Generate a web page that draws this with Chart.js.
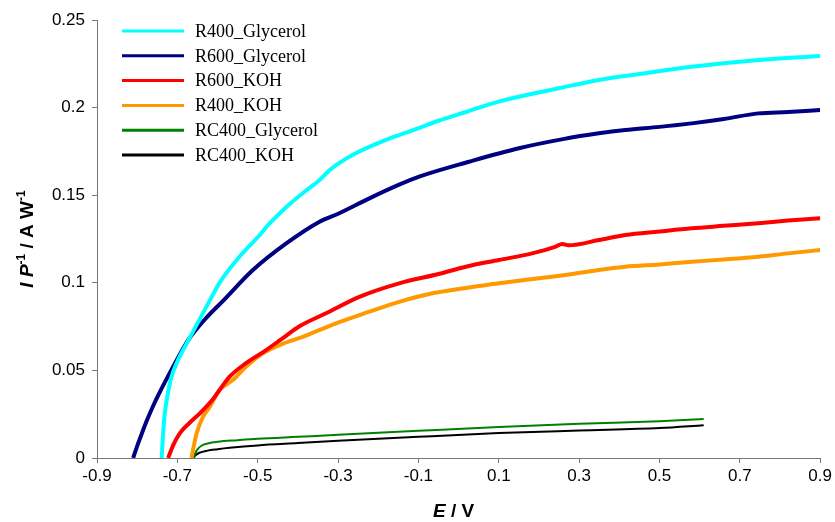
<!DOCTYPE html>
<html>
<head>
<meta charset="utf-8">
<script src="https://cdn.jsdelivr.net/npm/chart.js@4.4.1/dist/chart.umd.min.js"></script>
<style>
  html, body { margin:0; padding:0; background:#fff; }
  #wrap { width:835px; height:522px; position:relative; }
</style>
</head>
<body>
<div id="wrap"><canvas id="chart"></canvas></div>
<script>
/* ── Data (E / V , I P^-1 / A W^-1) ── */
const seriesNames = ['R400_Glycerol', 'R600_Glycerol', 'R600_KOH', 'R400_KOH', 'RC400_Glycerol', 'RC400_KOH'];
const seriesColors = ['#00FFFF', '#000080', '#FF0000', '#FF9900', '#008000', '#000000'];
const seriesWidths = [4, 4, 4, 4, 2, 2];

const eR400Gly = [-0.739,-0.736,-0.732,-0.725,-0.715,-0.7,-0.673,-0.645,-0.619,-0.595,-0.545,-0.5,-0.47,-0.43,-0.389,-0.346,-0.32,-0.305,-0.264,-0.181,-0.115,-0.05,0.018,0.1,0.249,0.349,0.46,0.58,0.746,0.9];
const iR400Gly = [0,0.012,0.024,0.035,0.046,0.055,0.067,0.079,0.09,0.1,0.115,0.126,0.134,0.143,0.151,0.1587,0.1645,0.1672,0.173,0.1815,0.187,0.1925,0.1975,0.2034,0.211,0.2158,0.2195,0.2233,0.2272,0.2295];

const eR600Gly = [-0.81,-0.8,-0.79,-0.777,-0.76,-0.745,-0.727,-0.7,-0.673,-0.63,-0.585,-0.512,-0.429,-0.346,-0.297,-0.222,-0.148,-0.098,0.026,0.15,0.26,0.349,0.415,0.5,0.58,0.66,0.746,0.82,0.9];
const iR600Gly = [0,0.0068,0.013,0.0208,0.0298,0.037,0.045,0.0565,0.0673,0.0795,0.09,0.1073,0.1225,0.1349,0.1397,0.1482,0.156,0.1606,0.1691,0.1768,0.182,0.1853,0.1872,0.189,0.191,0.1935,0.1967,0.1975,0.1986];

const eR600KOH = [-0.723,-0.71,-0.694,-0.67,-0.644,-0.61,-0.585,-0.57,-0.53,-0.479,-0.44,-0.396,-0.33,-0.247,-0.148,-0.05,0.018,0.1,0.183,0.24,0.258,0.274,0.349,0.415,0.5,0.58,0.66,0.746,0.82,0.9];
const iR600KOH = [0,0.0075,0.0141,0.02,0.0255,0.034,0.042,0.0464,0.054,0.0616,0.068,0.0752,0.0826,0.092,0.0997,0.105,0.1092,0.113,0.1168,0.1205,0.1222,0.1214,0.1244,0.1273,0.1293,0.1311,0.1325,0.134,0.1355,0.1368];

const eR400KOH = [-0.665,-0.659,-0.652,-0.636,-0.619,-0.595,-0.562,-0.53,-0.487,-0.44,-0.388,-0.305,-0.222,-0.15,-0.065,0.1,0.266,0.349,0.415,0.5,0.58,0.66,0.746,0.82,0.9];
const iR400KOH = [0,0.007,0.0141,0.0236,0.0293,0.0388,0.0445,0.052,0.0598,0.065,0.0692,0.0769,0.0835,0.089,0.094,0.0997,0.1045,0.1073,0.1092,0.1105,0.112,0.1133,0.1149,0.1168,0.1187];

const eRC400Gly = [-0.66,-0.655,-0.648,-0.64,-0.63,-0.615,-0.6,-0.55,-0.5,-0.4,-0.3,-0.1,0.1,0.3,0.5,0.61];
const iRC400Gly = [0,0.003,0.0055,0.007,0.008,0.0088,0.0093,0.0102,0.011,0.0121,0.0132,0.0155,0.0177,0.0195,0.021,0.0222];

const eRC400KOH = [-0.66,-0.655,-0.645,-0.625,-0.6,-0.57,-0.5,-0.4,-0.3,-0.1,0.1,0.3,0.5,0.61];
const iRC400KOH = [0,0.0015,0.003,0.0042,0.005,0.0058,0.0072,0.0085,0.0098,0.0121,0.0142,0.0157,0.0171,0.0187];

const xTicks = [-0.9, -0.7, -0.5, -0.3, -0.1, 0.1, 0.3, 0.5, 0.7, 0.9];
const xTickLabels = ['-0.9', '-0.7', '-0.5', '-0.3', '-0.1', '0.1', '0.3', '0.5', '0.7', '0.9'];
const yTicks = [0, 0.05, 0.1, 0.15, 0.2, 0.25];
const yTickLabels = ['0', '0.05', '0.1', '0.15', '0.2', '0.25'];

const seriesE = [eR400Gly, eR600Gly, eR600KOH, eR400KOH, eRC400Gly, eRC400KOH];
const seriesI = [iR400Gly, iR600Gly, iR600KOH, iR400KOH, iRC400Gly, iRC400KOH];

const SANS = "'Liberation Sans', Arial, sans-serif";
const SERIF = "'Liberation Serif', 'Times New Roman', serif";

/* ── Legend + axis titles (mixed italic / superscript) ── */
function drawRuns(ctx, runs, cx, cy) {
  let total = 0;
  runs.forEach(r => { ctx.font = r.f; r.w = ctx.measureText(r.t).width; total += r.w; });
  let x = cx - total / 2;
  runs.forEach(r => {
    ctx.font = r.f;
    ctx.fillText(r.t, x, cy + (r.sup ? -6 : 0));
    x += r.w;
  });
}

const decorPlugin = {
  id: 'decor',
  afterDraw(chart) {
    const {ctx, chartArea: a} = chart;
    ctx.save();
    // legend inside plot
    ctx.textBaseline = 'middle';
    ctx.textAlign = 'left';
    chart.data.datasets.forEach((ds, i) => {
      const y = a.top + 11 + i * 24.8;
      ctx.strokeStyle = ds.borderColor;
      ctx.lineWidth = 3;
      ctx.beginPath();
      ctx.moveTo(a.left + 25, y);
      ctx.lineTo(a.left + 87, y);
      ctx.stroke();
      ctx.fillStyle = '#000';
      ctx.font = '18px ' + SERIF;
      ctx.fillText(ds.label, a.left + 98, y + 1);
    });

    ctx.fillStyle = '#000';
    ctx.textBaseline = 'middle';
    // x title
    drawRuns(ctx, [
      {t: 'E', f: 'italic bold 19px ' + SANS},
      {t: ' / V', f: 'bold 19px ' + SANS}
    ], (a.left + a.right) / 2 - 5, 512);

    // y title
    ctx.translate(28, (a.top + a.bottom) / 2);
    ctx.rotate(-Math.PI / 2);
    drawRuns(ctx, [
      {t: 'I P', f: 'italic bold 19px ' + SANS},
      {t: '-1', f: 'bold 12px ' + SANS, sup: true},
      {t: ' / A W', f: 'bold 19px ' + SANS},
      {t: '-1', f: 'bold 12px ' + SANS, sup: true}
    ], 0, 0);
    ctx.restore();
  }
};

const datasets = seriesNames.map((name, k) => ({
  label: name,
  data: seriesE[k].map((e, j) => ({x: e, y: seriesI[k][j]})),
  borderColor: seriesColors[k],
  backgroundColor: seriesColors[k],
  borderWidth: seriesWidths[k],
  pointRadius: 0,
  fill: false,
  cubicInterpolationMode: 'monotone'
}));

new Chart(document.getElementById('chart'), {
  type: 'line',
  data: { datasets },
  plugins: [decorPlugin],
  options: {
    responsive: true,
    maintainAspectRatio: false,
    animation: false,
    layout: { padding: { top: 20, right: 13, left: 0, bottom: 0 } },
    plugins: { legend: { display: false }, tooltip: { enabled: false } },
    scales: {
      x: {
        type: 'linear',
        min: -0.9, max: 0.9,
        afterBuildTicks: s => { s.ticks = xTicks.map(v => ({value: v})); },
        afterFit: s => { s.height = 64; },
        ticks: {
          autoSkip: false, maxRotation: 0, padding: 3, color: '#000',
          font: { family: SANS, size: 17 },
          callback: (v, i) => xTickLabels[i]
        },
        grid: { drawOnChartArea: false, drawTicks: true, tickLength: 5, color: '#777' },
        border: { color: '#777', width: 1 }
      },
      y: {
        type: 'linear',
        min: 0, max: 0.25,
        afterBuildTicks: s => { s.ticks = yTicks.map(v => ({value: v})); },
        afterFit: s => { s.width = 97; },
        ticks: {
          autoSkip: false, padding: 7, color: '#000',
          font: { family: SANS, size: 17 },
          callback: (v, i) => yTickLabels[i]
        },
        grid: { drawOnChartArea: false, drawTicks: true, tickLength: 5, color: '#777' },
        border: { color: '#777', width: 1 }
      }
    }
  }
});
</script>
</body>
</html>
